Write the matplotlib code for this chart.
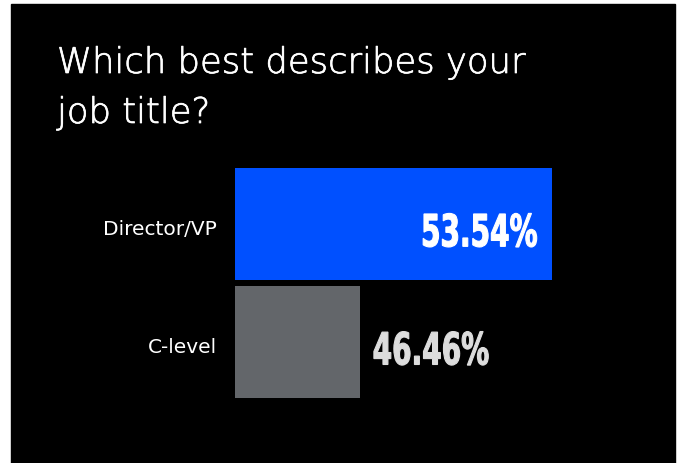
import matplotlib.pyplot as plt
import matplotlib.patheffects as pe
from matplotlib.patches import Rectangle, PathPatch
from matplotlib.textpath import TextPath
from matplotlib.font_manager import FontProperties
from matplotlib.transforms import Affine2D, ScaledTranslation

title_lines = ["Which best describes your", "job title?"]
categories = ["Director/VP", "C-level"]
shares = [53.54, 46.46]
bar_colors = ["#0050ff", "#63666a"]
value_colors = ["#ffffff", "#dddddd"]

W, H = 679, 464
fig = plt.figure(figsize=(W / 100, H / 100), dpi=100)
fig.patch.set_facecolor("white")

# black card behind everything
fig.add_artist(Rectangle((11 / W, 0), (675 - 11) / W, (H - 5) / H,
                         transform=fig.transFigure, color="black", zorder=0))

for i, line in enumerate(title_lines):
    fig.text(57 / W, 1 - (74 + 50 * i) / H, line, color="white",
             family="DejaVu Sans", weight=200, fontsize=25.5, va="baseline",
             path_effects=[pe.withStroke(linewidth=0.5, foreground="white")])

ax = fig.add_axes([235 / W, 65 / H, 317 / W, 230 / H])
ax.set_facecolor("none")
ypos = list(range(len(categories)))
ax.barh(ypos, shares, height=0.947, color=bar_colors)
ax.set_xlim(41.85, 53.54)
ax.set_ylim(1.4735, -0.4735)
ax.set_xticks([])
ax.set_yticks([])
for s in ax.spines.values():
    s.set_visible(False)

for i, cat in enumerate(categories):
    ax.annotate(cat, (0, i), xycoords=ax.get_yaxis_transform(),
                xytext=(-13, -3), textcoords="offset points",
                ha="right", va="center", color="white",
                family="DejaVu Sans", fontsize=14.5)

# values in a tall narrow face: squeeze a bold condensed path sideways
vfont = FontProperties(family="DejaVu Sans", stretch="condensed", weight="bold")
pt2px = Affine2D().scale(1 / 72) + fig.dpi_scale_trans
squeeze = 0.7

def value_label(x, y, s, color, inside):
    tp = TextPath((0, 0), s, size=32, prop=vfont)
    bb = tp.get_extents()
    shift = -bb.x1 - 11 / squeeze if inside else -bb.x0 + 10 / squeeze
    place = (Affine2D().translate(shift, -(bb.y0 + bb.y1) / 2 - 4.5).scale(squeeze, 1)
             + pt2px + ScaledTranslation(x, y, ax.transData))
    patch = PathPatch(tp, transform=place, facecolor=color, edgecolor=color,
                      lw=0.8, clip_on=False)
    ax.add_artist(patch)

for i, v in enumerate(shares):
    value_label(v, i, f"{v:.2f}%", value_colors[i], i == 0)

fig.savefig("out.png", dpi=100, facecolor=fig.get_facecolor())
